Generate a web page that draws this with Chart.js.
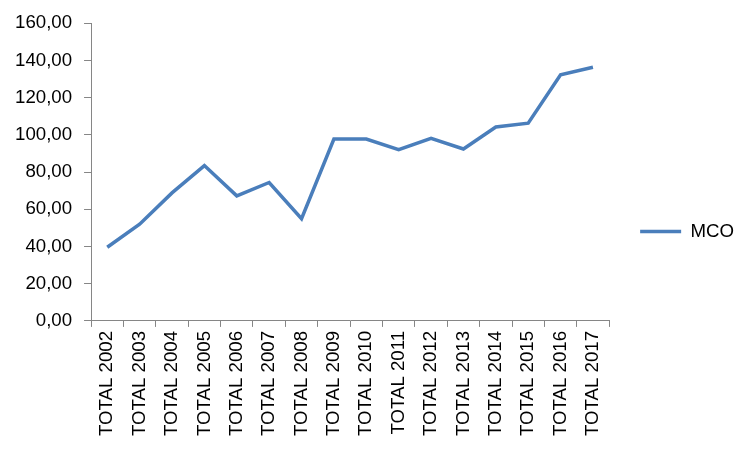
<!DOCTYPE html>
<html>
<head>
<meta charset="utf-8">
<script src="https://cdn.jsdelivr.net/npm/chart.js@4/dist/chart.umd.min.js"></script>
<style>
  html, body { margin: 0; padding: 0; background: #fff; }
  #wrap { width: 750px; height: 450px; position: relative; }
</style>
</head>
<body>
<div id="wrap"><canvas id="c" width="750" height="450"></canvas></div>
<script>
const categories = ["TOTAL 2002","TOTAL 2003","TOTAL 2004","TOTAL 2005","TOTAL 2006","TOTAL 2007","TOTAL 2008","TOTAL 2009","TOTAL 2010","TOTAL 2011","TOTAL 2012","TOTAL 2013","TOTAL 2014","TOTAL 2015","TOTAL 2016","TOTAL 2017"];
const seriesName = "MCO";
const mcoValues = [39.6, 52.0, 68.8, 83.5, 67.2, 74.4, 54.9, 97.7, 97.7, 92.0, 98.1, 92.4, 104.2, 106.3, 132.3, 136.3];
const yMin = 0, yMax = 160, yStep = 20;

const blue = '#4A7EBB';
const axisGray = '#868686';
const fontFamily = '"Liberation Sans", Arial, sans-serif';

new Chart(document.getElementById('c'), {
  type: 'line',
  data: {
    labels: categories,
    datasets: [{
      label: seriesName,
      data: mcoValues,
      borderColor: blue,
      backgroundColor: blue,
      borderWidth: 3.5,
      pointRadius: 0,
      tension: 0,
      fill: false
    }]
  },
  options: {
    responsive: false,
    animation: false,
    layout: { padding: { left: 3, right: 6, top: 23, bottom: 10 } },
    plugins: {
      tooltip: { enabled: false },
      legend: {
        position: 'right',
        fullSize: true,
        labels: {
          boxWidth: 41,
          boxHeight: 3.5,
          padding: 31,
          color: '#000',
          font: { family: fontFamily, size: 18.67 },
          generateLabels: (chart) => chart.data.datasets.map((ds, i) => ({
            text: ds.label,
            fillStyle: ds.borderColor,
            strokeStyle: ds.borderColor,
            lineWidth: 0,
            hidden: false,
            datasetIndex: i,
            fontColor: '#000'
          }))
        }
      }
    },
    scales: {
      x: {
        type: 'category',
        offset: true,
        grid: { display: true, offset: true, drawOnChartArea: false, drawTicks: true, tickLength: 6, color: axisGray },
        border: { display: true, color: axisGray, width: 1 },
        ticks: {
          color: '#000',
          font: { family: fontFamily, size: 18.67 },
          minRotation: 90, maxRotation: 90,
          autoSkip: false,
          padding: 4
        }
      },
      y: {
        min: yMin, max: yMax,
        grid: { display: true, drawOnChartArea: false, drawTicks: true, tickLength: 7, color: axisGray },
        border: { display: true, color: axisGray, width: 1 },
        ticks: {
          stepSize: yStep,
          color: '#000',
          font: { family: fontFamily, size: 18.67 },
          padding: 12,
          callback: (v) => v.toFixed(2).replace('.', ',')
        }
      }
    }
  }
});
</script>
</body>
</html>
